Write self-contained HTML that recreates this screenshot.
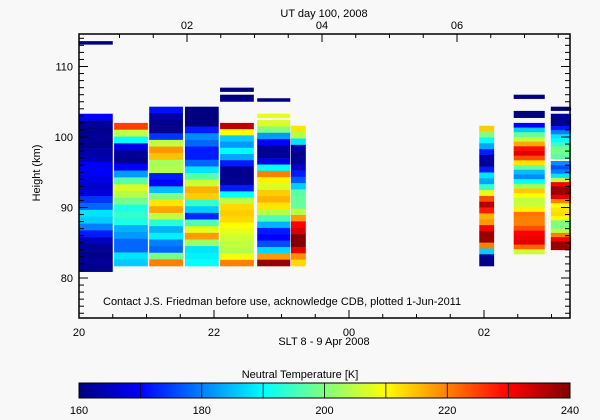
<!DOCTYPE html>
<html><head><meta charset="utf-8"><style>
html,body{margin:0;padding:0;background:#f8f8f8;}
svg{display:block;font-family:"Liberation Sans",sans-serif;}
text{fill:#000;font-size:11px;}
</style></head><body>
<svg id="chart" width="600" height="420" xmlns="http://www.w3.org/2000/svg">
<rect width="600" height="420" fill="#f8f8f8"/>
<g id="cells"></g>
<g id="axes"></g>
<text x="324" y="17" text-anchor="middle">UT day 100, 2008</text>
<text x="40" y="173" text-anchor="middle" transform="rotate(-90 40 173)">Height (km)</text>
<text x="324" y="345" text-anchor="middle">SLT 8 - 9 Apr 2008</text>
<text x="103" y="305">Contact J.S. Friedman before use, acknowledge CDB, plotted 1-Jun-2011</text>
<text x="300" y="378" text-anchor="middle" font-size="12">Neutral Temperature [K]</text>
<g id="cbar"></g>
</svg>
<script>
// ---- data ----
const segStart  = [20.0, 20.52, 21.04, 21.57, 22.09, 22.64, 23.14, 25.93, 26.44, 26.99, 26.99];
const segEnd    = [20.5, 21.02, 21.54, 22.07, 22.59, 23.13, 23.36, 26.15, 26.90, 27.29, 27.29];
const segBottom = [80.9, 81.7, 81.7, 81.7, 81.7, 81.7, 81.7, 81.7, 83.4, 96.9, 84.0];
const segTop    = [103.3, 102.0, 104.3, 104.3, 102.0, 102.4, 101.6, 101.6, 102.0, 103.3, 96.6];
// values listed top -> bottom (K)
const segValues = [
 [170,162,161,162,161,163,164,169,170,168,166,167,174,178,188,186,180,172,165,162,161,162,161],
 [225,205,190,168,162,161,170,182,197,207,204,199,192,194,192,184,182,178,178,188,186],
 [171,163,161,161,174,205,218,215,203,204,172,170,185,200,212,217,205,193,184,189,180,178,199,220],
 [160,160,160,172,181,178,172,172,178,188,197,206,216,214,194,186,173,196,208,218,202,188,189,190],
 [235,210,186,182,190,183,172,161,161,162,172,190,205,213,214,213,210,208,206,205,204,209,220],
 [207,200,182,170,162,162,168,190,220,211,207,214,216,212,204,196,184,172,170,176,187,218,238],
 [212,204,188,163,161,162,165,172,177,186,197,198,198,204,218,230,233,240,240,232,219,213],
 [214,200,190,183,172,162,162,172,188,183,194,208,224,236,228,216,218,230,238,238,220,186,161,161],
 [170,186,198,205,217,229,232,224,212,198,185,181,190,203,214,210,205,206,211,221,220,220,224,230,231,232,222,206],
 [162,162,162,172,180,188,190,195,199,199,197],
 [181,176,180,188,205,230,238,238,232,220,210,212,213,210,200,200,204,220,230,238,238]
];
// isolated bars: start, end, bottom, top, value
const barStart  = [20.0, 22.09, 22.09, 22.64, 22.64, 26.44, 26.44, 26.99];
const barEnd    = [20.5, 22.59, 22.59, 23.13, 23.13, 26.90, 26.90, 27.29];
const barBottom = [113.1, 106.4, 105.0, 105.0, 102.7, 105.4, 102.7, 103.7];
const barTop    = [113.6, 107.0, 106.0, 105.5, 103.3, 106.0, 103.7, 104.3];
const barValue  = [158, 158, 158, 158, 208, 158, 158, 158];
const xTickLabels = ["20","22","00","02"];
const xTickHours  = [20,22,24,26];
const utTickLabels = ["02","04","06"];
const utTickHours  = [2,4,6];
const yTickValues = [80,90,100,110];
const cbTickValues = [160,180,200,220,240];

// ---- scales ----
const X0=79, X1=570, Y0=34, Y1=318;
const T0=20, T1=20+(X1-X0)/67.5;
const UT_OFFSET=4.4;
function xs(t){return X0+(t-T0)*67.5;}
function ys(h){return 278-(h-80)*7.05;}
const HMIN=80-(Y1-278)/7.05, HMAX=80+(278-Y0)/7.05;
function jet(v){
  let f=(v-160)/80; f=Math.max(0,Math.min(1,f));
  const c=x=>Math.max(0,Math.min(1,x));
  const r=c(1.5-Math.abs(4*f-3)), g=c(1.5-Math.abs(4*f-2)), b=c(1.5-Math.abs(4*f-1));
  return `rgb(${Math.round(r*255)},${Math.round(g*255)},${Math.round(b*255)})`;
}
const NS="http://www.w3.org/2000/svg";
function mk(tag,attrs,parent){const e=document.createElementNS(NS,tag);for(const k in attrs)e.setAttribute(k,attrs[k]);parent.appendChild(e);return e;}

const cells=document.getElementById('cells');
for(let i=0;i<segValues.length;i++){
  const vals=segValues[i], n=vals.length, dh=(segTop[i]-segBottom[i])/n;
  for(let j=0;j<n;j++){
    const hTop=segTop[i]-j*dh, hBot=hTop-dh;
    const r=mk('rect',{x:xs(segStart[i]),y:ys(hTop),width:xs(segEnd[i])-xs(segStart[i]),height:ys(hBot)-ys(hTop)+0.3,fill:jet(vals[j])},cells);
    
    
  }
}
for(let i=0;i<barValue.length;i++){
  const r=mk('rect',{x:xs(barStart[i]),y:ys(barTop[i]),width:xs(barEnd[i])-xs(barStart[i]),height:ys(barBottom[i])-ys(barTop[i]),fill:jet(barValue[i])},cells);
  
  
}

const ax=document.getElementById('axes');
const frame=mk('rect',{x:X0,y:Y0,width:X1-X0,height:Y1-Y0,fill:'none',stroke:'#000','stroke-width':1.5},ax);


// x ticks (SLT bottom)
for(let t=20;t<=T1+1e-6;t+=0.5){
  const x=xs(t), major=Math.abs(t-Math.round(t/2)*2)<1e-6, L=major?8:4;
  mk('line',{x1:x,x2:x,y1:Y1,y2:Y1-L,stroke:'#000'},ax);
}
xTickHours.forEach((h,i)=>{
  const t=mk('text',{x:xs(h),y:336,'text-anchor':'middle'},ax);t.textContent=xTickLabels[i];
  
  
});
// top UT ticks
for(let u=1;u+ -UT_OFFSET+24<=T1+1e-6;u+=0.5){
  const t=u-UT_OFFSET+24; if(t<T0) continue;
  const x=xs(t), major=Math.abs(u-Math.round(u/2)*2)<1e-6, L=major?8:4;
  mk('line',{x1:x,x2:x,y1:Y0,y2:Y0+L,stroke:'#000'},ax);
}
utTickHours.forEach((u,i)=>{
  const t=mk('text',{x:xs(u-UT_OFFSET+24),y:29,'text-anchor':'middle'},ax);t.textContent=utTickLabels[i];
  
  
});
// y ticks
for(let h=Math.ceil(HMIN);h<=HMAX;h++){
  const y=ys(h), L=(h%10===0)?9:5;
  mk('line',{x1:X0,x2:X0+L,y1:y,y2:y,stroke:'#000'},ax);
  mk('line',{x1:X1,x2:X1-L,y1:y,y2:y,stroke:'#000'},ax);
}
yTickValues.forEach(v=>{
  const t=mk('text',{x:73,y:ys(v)+4,'text-anchor':'end'},ax);t.textContent=v;
  
  
});

// colorbar
const cb=document.getElementById('cbar');
const CB0=79,CB1=570,CBY=383,CBH=15;
const defs=mk('defs',{},cb);
const grad=mk('linearGradient',{id:'jetg',x1:0,x2:1,y1:0,y2:0},defs);
for(let k=0;k<=40;k++){mk('stop',{offset:k/40,'stop-color':jet(160+k*2)},grad);}
const cr=mk('rect',{x:CB0,y:CBY,width:CB1-CB0,height:CBH,fill:'url(#jetg)',stroke:'#000','stroke-width':1},cb);


function cbx(v){return CB0+(v-160)/80*(CB1-CB0);}
for(let v=170;v<240;v+=10){mk('line',{x1:cbx(v),x2:cbx(v),y1:CBY,y2:CBY+CBH,stroke:'#000','stroke-width':0.8},cb);}
cbTickValues.forEach(v=>{
  const t=mk('text',{x:cbx(v),y:414,'text-anchor':'middle'},cb);t.textContent=v;
  
  
});
</script>
</body></html>
